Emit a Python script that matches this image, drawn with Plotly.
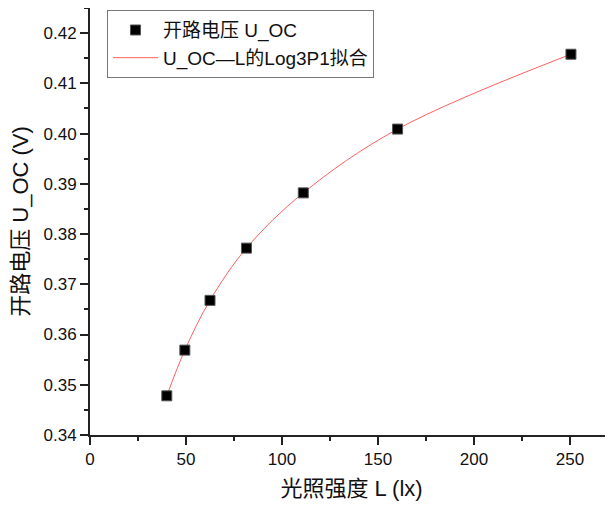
import plotly.graph_objects as go

L_lx = [40.0, 49.4, 62.5, 81.5, 111.1, 160.2, 250.5]
U_oc = [0.3478, 0.3569, 0.3668, 0.3772, 0.3882, 0.4009, 0.4158]
U_err = [0.0008, 0, 0, 0, 0, 0, 0.0008]

x_ticks = [0, 50, 100, 150, 200, 250]
y_ticks = [0.34, 0.35, 0.36, 0.37, 0.38, 0.39, 0.40, 0.41, 0.42]
y_tick_text = ["0.34", "0.35", "0.36", "0.37", "0.38", "0.39", "0.40", "0.41", "0.42"]

FONT = "Arial, 'Liberation Sans', 'Noto Sans CJK SC', sans-serif"

fig = go.Figure()
fig.add_trace(go.Scatter(
    x=L_lx, y=U_oc, mode="lines", name="U_OC—L的Log3P1拟合",
    line=dict(color="#ff6060", width=1, shape="spline", smoothing=1.0),
))
fig.add_trace(go.Scatter(
    x=L_lx, y=U_oc, mode="markers", name="开路电压 U_OC",
    marker=dict(symbol="square", size=10, color="black",
                line=dict(color="#555555", width=1)),
    error_y=dict(type="data", array=U_err, color="#e000e0", thickness=1.5, width=0),
))

axis_common = dict(
    showline=True, linecolor="#222222", linewidth=2, mirror=False,
    ticks="outside", ticklen=8, tickwidth=1.5, tickcolor="#222222",
    showgrid=False, zeroline=False, automargin=False,
    tickfont=dict(family=FONT, size=17, color="#111111"),
)

fig.update_layout(
    width=605, height=499,
    margin=dict(l=82, r=0, t=0, b=72, autoexpand=False),
    plot_bgcolor="white", paper_bgcolor="white",
    font=dict(family=FONT, color="#111111"),
    xaxis=dict(range=[0, 272.4], tickvals=x_ticks,
               minor=dict(dtick=25, tick0=0, ticklen=4, ticks="outside", tickcolor="#222222", tickwidth=1.5),
               title=dict(text="光照强度 L (lx)", font=dict(family=FONT, size=22, color="#111111"), standoff=12),
               **axis_common),
    yaxis=dict(range=[0.34, 0.425], tickvals=y_ticks, ticktext=y_tick_text,
               minor=dict(dtick=0.005, tick0=0.34, ticklen=4, ticks="outside", tickcolor="#222222", tickwidth=1.5),
               title=dict(text="开路电压 U_OC (V)", font=dict(family=FONT, size=22, color="#111111"), standoff=10),
               **axis_common),
    legend=dict(x=0.0325, y=0.995, xanchor="left", yanchor="top",
                bordercolor="#777777", borderwidth=1, bgcolor="white",
                font=dict(family=FONT, size=19, color="#111111"),
                itemwidth=45, traceorder="reversed", tracegroupgap=0),
    showlegend=True,
)

fig.write_html("out.html")
